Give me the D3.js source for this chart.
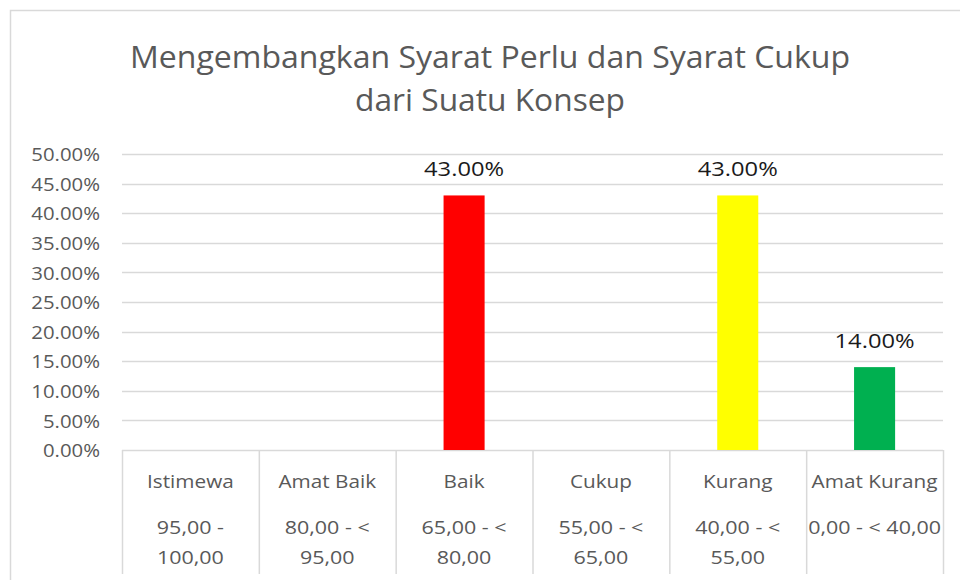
<!DOCTYPE html>
<html><head><meta charset="utf-8">
<script src="https://cdn.jsdelivr.net/npm/d3@7"></script>
<style>
html,body{margin:0;padding:0;background:#fff;}
svg{display:block;font-family:"Open Sans","Noto Sans",sans-serif;}
</style></head>
<body>
<svg id="chart" width="960" height="580"></svg>
<script>
const titleLines = ["Mengembangkan Syarat Perlu dan Syarat Cukup", "dari Suatu Konsep"];
const categories = ["Istimewa", "Amat Baik", "Baik", "Cukup", "Kurang", "Amat Kurang"];
const ranges = [["95,00 -", "100,00"], ["80,00 - <", "95,00"], ["65,00 - <", "80,00"], ["55,00 - <", "65,00"], ["40,00 - <", "55,00"], ["0,00 - < 40,00"]];
const values = [null, null, 0.43, null, 0.43, 0.14];
const colors = ["#ff0000", "#ff0000", "#ff0000", "#00b050", "#ffff00", "#00b050"];
const yTicks = [0, 0.05, 0.10, 0.15, 0.20, 0.25, 0.30, 0.35, 0.40, 0.45, 0.50];

const svg = d3.select("#chart");
const W = 960, H = 580;
const plot = {left: 122, right: 943, top: 154, bottom: 450};
const textColor = "#595959", lineColor = "#d9d9d9";

// outer chart border
svg.append("rect").attr("x", 10.5).attr("y", 10.5).attr("width", W).attr("height", H)
  .attr("fill", "none").attr("stroke", lineColor).attr("stroke-width", 1.5);

// title
const title = svg.append("g");
titleLines.forEach((t, i) => {
  const el = title.append("text").attr("x", 490).attr("y", 68 + i * 43)
    .attr("text-anchor", "middle").attr("fill", textColor)
    .style("font-size", "31px").style("font-family", "'Open Sans'").text(t);
  const target = i === 0 ? 720 : 270;
  el.attr("textLength", target).attr("lengthAdjust", "spacingAndGlyphs");
});

const x = d3.scaleBand().domain(categories).range([plot.left, plot.right]).paddingInner(0).paddingOuter(0);
const y = d3.scaleLinear().domain([0, 0.5]).range([plot.bottom, plot.top]);

// gridlines
svg.append("g").selectAll("line").data(yTicks.filter(d => d > 0)).join("line")
  .attr("x1", plot.left).attr("x2", plot.right)
  .attr("y1", d => Math.round(y(d)) + 0.5).attr("y2", d => Math.round(y(d)) + 0.5)
  .attr("stroke", lineColor).attr("stroke-width", 1.5);

// y axis labels
const yAxis = d3.axisLeft(y).tickValues(yTicks).tickFormat(d => (d * 100).toFixed(2) + "%").tickSize(0).tickPadding(0);
const ya = svg.append("g").attr("transform", `translate(100,0)`).call(yAxis);
ya.select(".domain").remove();
ya.selectAll("text").attr("fill", textColor).style("font-size", "18.5px").style("font-family", "'Open Sans'")
  .attr("dy", "0.36em")
  .each(function() {
    const w = this.getComputedTextLength();
    d3.select(this).attr("textLength", w * 1.1).attr("lengthAdjust", "spacingAndGlyphs");
  });

// table lines
const tbl = svg.append("g");
tbl.append("line").attr("x1", plot.left).attr("x2", plot.right).attr("y1", plot.bottom + 0.5).attr("y2", plot.bottom + 0.5)
  .attr("stroke", lineColor).attr("stroke-width", 1.5);
const bounds = categories.map(c => x(c)).concat([plot.right]);
tbl.selectAll("line.v").data(bounds).join("line").attr("class", "v")
  .attr("x1", d => d + 0.5).attr("x2", d => d + 0.5).attr("y1", plot.bottom).attr("y2", 574)
  .attr("stroke", lineColor).attr("stroke-width", 1.5);

// category labels
const cat = svg.append("g").attr("fill", textColor).style("font-size", "18.5px").style("font-family", "'Open Sans'");
function stretch(sel, factor, maxW) {
  const w = sel.node().getComputedTextLength();
  sel.attr("textLength", Math.min(w * factor, maxW)).attr("lengthAdjust", "spacingAndGlyphs");
}
categories.forEach((c, i) => {
  const cx = x(c) + x.bandwidth() / 2;
  const t = cat.append("text").attr("x", cx).attr("y", 488).attr("text-anchor", "middle").text(c);
  stretch(t, 1.12, x.bandwidth() - 8);
  ranges[i].forEach((r, j) => {
    const tr = cat.append("text").attr("x", cx).attr("y", 534 + j * 30).attr("text-anchor", "middle").text(r);
    stretch(tr, 1.16, x.bandwidth() - 4);
  });
});

// bars
const bw = x.bandwidth() * 0.3;
const data = categories.map((c, i) => ({c, v: values[i], color: colors[i]})).filter(d => d.v != null);
svg.append("g").selectAll("rect").data(data).join("rect")
  .attr("x", d => x(d.c) + x.bandwidth() / 2 - bw / 2)
  .attr("y", d => y(d.v)).attr("width", bw).attr("height", d => y(0) - y(d.v))
  .attr("fill", d => d.color);

// value labels
svg.append("g").selectAll("text").data(data).join("text")
  .attr("x", d => x(d.c) + x.bandwidth() / 2).attr("y", d => y(d.v) - 19)
  .attr("text-anchor", "middle").attr("fill", "#1a1a1a")
  .style("font-size", "20px").style("font-family", "'Open Sans'")
  .attr("textLength", 80).attr("lengthAdjust", "spacingAndGlyphs")
  .text(d => (d.v * 100).toFixed(2) + "%");
</script>
</body></html>
